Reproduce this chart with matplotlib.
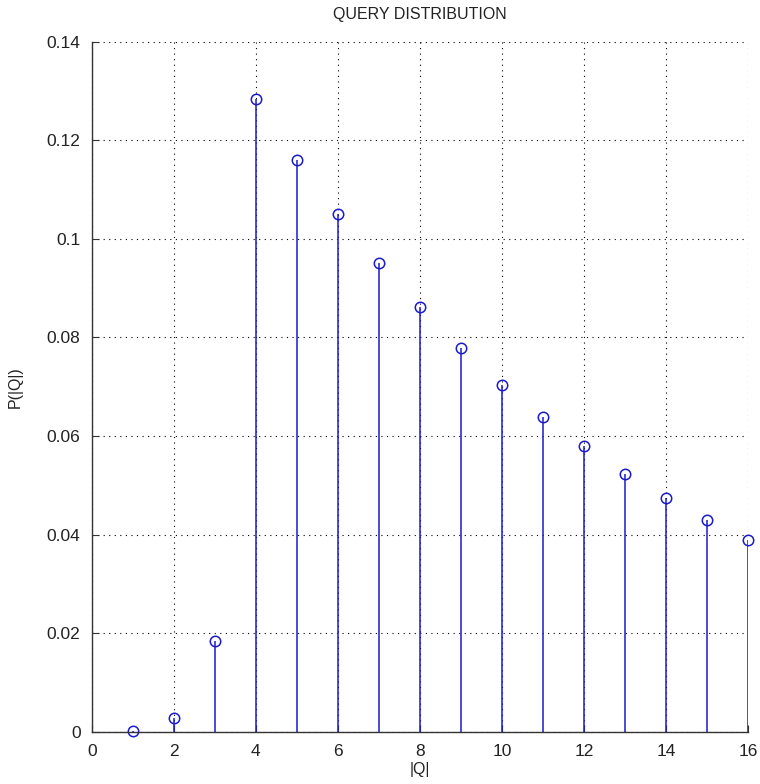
import matplotlib
matplotlib.use("Agg")
import matplotlib.pyplot as plt

# |Q| values and probabilities
q_sizes = list(range(1, 17))
p_q = [0.0002, 0.0027, 0.0184, 0.1283, 0.1160, 0.1050, 0.0951, 0.0862,
       0.0778, 0.0704, 0.0638, 0.0579, 0.0523, 0.0475, 0.0430, 0.0388]

x_ticks = list(range(0, 17, 2))
y_ticks = [0, 0.02, 0.04, 0.06, 0.08, 0.1, 0.12, 0.14]
y_tick_labels = ["0", "0.02", "0.04", "0.06", "0.08", "0.1", "0.12", "0.14"]

plt.rcParams["font.family"] = ["Liberation Sans", "DejaVu Sans"]

fig = plt.figure(figsize=(7.6, 7.84), dpi=100)
ax = fig.add_axes([0.1207, 0.0667, 0.8639, 0.8801])

markers, stems, base = ax.stem(q_sizes, p_q, linefmt="-", markerfmt="o", basefmt=" ")
plt.setp(stems, color=(0.1, 0.1, 0.8), linewidth=1.1)
plt.setp(markers, markerfacecolor="none", markeredgecolor=(0.1, 0.1, 0.8),
         markersize=7.5, markeredgewidth=1.1, clip_on=False)

ax.set_xlim(0, 16)
ax.set_ylim(0, 0.14)
ax.set_xticks(x_ticks)
ax.set_yticks(y_ticks)
ax.set_yticklabels(y_tick_labels)

ax.grid(True, linestyle=(0, (1, 4)), color="black", linewidth=0.8)
ax.set_axisbelow(True)
for side in ["top", "right"]:
    ax.spines[side].set_visible(False)
for side in ["left", "bottom"]:
    ax.spines[side].set_color("#333333")
    ax.spines[side].set_linewidth(1.0)

ax.tick_params(direction="in", length=5, labelsize=12.5, colors="#333333",
               labelcolor="#222222")
ax.tick_params(axis="x", pad=9)
ax.tick_params(axis="y", pad=8)

ax.set_title("QUERY DISTRIBUTION", fontsize=11.5, pad=16, color="#222222")
ax.set_xlabel("|Q|", fontsize=11.5, labelpad=2, color="#222222")
ax.set_ylabel("P(|Q|)", fontsize=11.5, labelpad=17, color="#222222")

fig.savefig("out.png", dpi=100)
